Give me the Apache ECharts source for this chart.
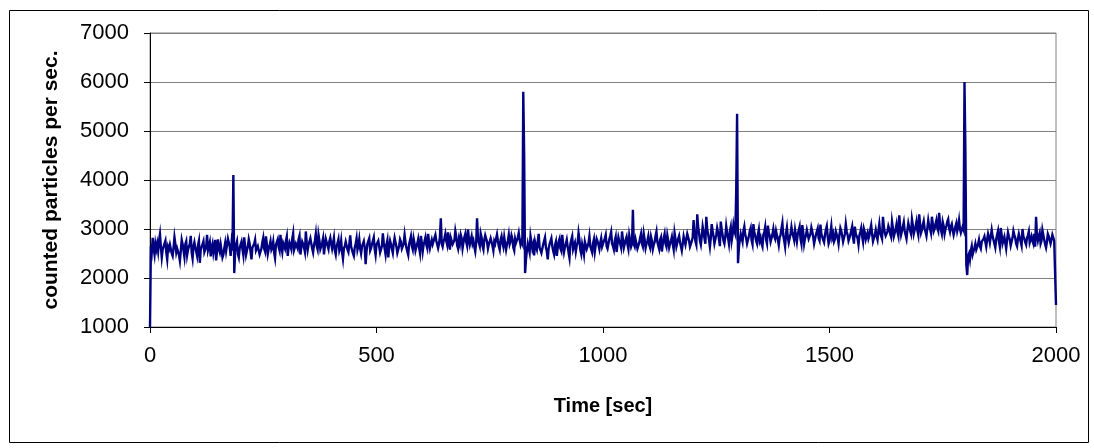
<!DOCTYPE html>
<html>
<head>
<meta charset="utf-8">
<script src="https://cdn.jsdelivr.net/npm/echarts@6/dist/echarts.min.js"></script>
<style>
html,body{margin:0;padding:0;background:#fff;}
#chart{width:1094px;height:448px;}
</style>
</head>
<body>
<div id="chart"></div>
<script>
// Sampling step of the readings (seconds)
const STEP = 2;
// Counted particles per second, every 2 s (t = 0 ... 2000)
const counts = [
1000,
2650,2540,2820,2610,2480,2700,2590,2700,2550,2760,
2890,2630,2420,2580,2610,2700,2760,2520,2380,2640,
2590,2680,2710,2500,2450,2620,2830,2690,2520,2600,
2640,2470,2350,2560,2780,2690,2560,2430,2690,2750,
2470,2580,2600,2700,2860,2520,2400,2650,2730,2610,
2540,2450,2670,2760,2310,2580,2620,2690,2750,2530,
2500,2640,2880,2570,2580,2730,2440,2620,2700,2510,
2620,2780,2360,2560,2790,2600,2530,2680,2660,2420,
2480,2610,2720,2550,2570,2800,2820,2640,2450,2700,2560,
4100,2100,
2560,2680,2750,2490,2420,2610,2680,2740,2590,2470,
2830,2650,2470,2560,2640,2790,2700,2530,2380,2620,
2610,2700,2780,2560,2520,2650,2690,2480,2440,2600,
2730,2820,2600,2540,2850,2680,2490,2590,2660,2750,
2580,2630,2740,2520,2410,2680,2700,2790,2630,2560,
2880,2640,2530,2710,2680,2600,2760,2850,2450,2620,
2720,2660,2590,2800,2910,2570,2560,2700,2690,2600,
2790,2860,2480,2620,2740,2690,2620,2530,2950,2720,
2570,2680,2700,2810,2830,2600,2520,2670,2760,2900,
2650,2580,2880,2760,2590,2650,2720,2810,2480,2640,
2800,2730,2660,2590,2750,2820,2700,
2600,2710,2820,2560,2480,2650,2710,2790,2560,2620,
2760,2530,2390,2600,2650,2740,2730,2580,2530,2690,
2870,2640,2610,2500,2450,2620,2700,2810,2580,2660,
2790,2600,2500,2640,2680,2750,2620,2280,2550,2700,
2740,2810,2560,2610,2690,2730,2830,2590,2470,2680,
2650,2760,2720,2520,2540,2650,2910,2720,2600,2480,
2680,2770,2420,2630,2760,2690,2590,2510,2700,2820,
2830,2640,2510,2580,2660,2790,2740,2600,2580,2700,
2880,2730,2620,2540,2470,2690,2730,2850,2650,2580,
2800,2700,2560,2640,2700,2790,2620,2510,2860,2720,
2540,2680,2750,2830,2680,2610,2900,2740,2610,2700,
2780,2690,2650,2820,2880,2760,2720,2610,2700,2840,
3220,2700,2640,2750,2810,2900,2760,2680,2930,2740,
2580,2820,2840,2690,2700,2770,2960,2850,2670,2600,
2790,2700,2880,2810,2610,2730,2830,2900,2740,2660,
2990,2800,2680,2760,2850,2700,2760,2630,2540,2720,
3220,2790,2720,2650,2910,2830,2650,2580,2780,2870,
2860,2740,2600,2690,2740,2810,2820,2660,2560,2750,
2700,2800,2890,2760,2650,2580,2780,2850,2720,2640,
2830,2700,2580,2690,2760,2880,2690,2750,2870,2800,
2620,2560,2800,2720,2740,2830,2920,2780,2680,2750,
2700,
5800,4500,2100,
2380,2560,2700,2610,2520,2850,2730,2600,2680,2460,
2730,2640,2580,2750,2900,2620,2640,2510,2500,2690,
2760,2830,2620,2540,2380,2600,2690,2720,2810,2650,
2550,2480,2670,2740,2450,2610,2740,2800,2600,2550,
2880,2700,2530,2630,2700,2780,2640,2520,2410,2690,
2780,2850,2590,2660,2720,2540,2660,2720,2920,2780,
2570,2490,2690,2600,2480,2740,2760,2590,2630,2710,
2850,2640,2600,2520,2710,2790,2540,2680,2800,2750,
2680,2590,2720,2810,2640,2700,
2720,2810,2880,2650,2600,2700,2790,2860,2940,2700,
2650,2580,2760,2840,2530,2690,2830,2750,2700,2620,
2950,2780,2620,2700,2780,2840,2680,2590,2870,2760,
2640,2700,3390,2690,2640,2780,2750,2600,2560,2720,
2820,2900,2700,2640,2900,2780,2610,2700,2760,2850,
2680,2620,2840,2760,2590,2680,2730,2860,2950,2740,
2660,2590,2780,2830,2540,2700,2810,2900,2700,2640,
2870,2760,2620,2700,2760,2840,2690,2580,2920,2800,
2640,2720,2800,2860,2730,2650,2560,2700,2850,2760,
2680,2790,2900,2830,2760,2640,2620,2750,2830,
3180,2900,2750,2680,3300,3050,2920,2760,2680,2850,
3050,2940,2810,2700,3250,3000,2900,2780,2640,2820,
3100,2960,2850,2700,2720,2880,3020,2930,2790,2650,
3150,2990,2880,2760,2700,2840,3060,2920,2820,2700,
2950,3040,2760,2880,3080,2960,2900,
3750,5350,2300,
2620,2780,2900,2820,2740,2960,3050,2880,2810,2700,
2680,2850,2960,3020,2770,2690,3100,2940,2850,2760,
2700,2890,2990,2760,2820,2700,2640,2880,2930,3040,
2780,2700,3070,2920,2860,2740,2720,2890,3000,2850,
2800,2960,2950,2780,2670,2830,2880,3010,3120,2860,
2760,2640,2910,3030,2830,2720,2690,2900,3040,2920,
2850,2770,2980,2860,2740,2900,2900,3050,2800,2700,
3080,2930,2700,2810,2870,2980,2960,2800,2780,2900,
3030,2950,2840,2700,2660,2880,2920,3010,2810,2760,
3090,2900,2870,2780,2730,2880,2990,3060,2850,2700,
2760,2920,3060,2830,2900,2740,2790,2950,2950,2820,
2700,2880,3020,2960,2860,2740,2780,2900,3100,2950,
2880,2760,2740,2880,2970,3050,2830,2700,3050,2900,
2900,2810,2680,2870,2940,3020,2850,2740,3000,2930,
2790,2860,2920,2800,2860,2990,3080,2900,2750,2820,
2880,
2980,2850,2780,2960,3100,2920,2880,2800,3250,3050,
2930,2860,2820,2950,3060,3000,2900,2840,3150,3020,
2850,2920,3000,3100,2940,2860,3280,3050,2880,2960,
3050,3140,2960,2880,2800,2980,3120,3030,2990,2900,
3200,3080,2900,2980,3050,3150,2970,2880,3300,3100,
2920,2980,3080,3160,3010,2940,2860,3020,3180,3060,
3000,2920,3250,3110,2950,3000,3100,3180,3020,2960,
3330,3120,2980,2900,3140,3060,2900,3000,3060,3150,
3200,3020,2940,3050,3100,2980,2880,2960,3050,3120,
2960,3040,3180,3000,2920,2980,3050,2990,
6000,4600,2270,2060,
2450,2500,2380,2560,2650,2480,2450,2620,2700,2580,
2560,2690,2780,2650,2600,2740,2720,2800,
2850,2740,2640,2790,2900,2820,2720,2680,2980,2850,
2780,2700,2620,2790,2880,2960,2750,2640,3020,2880,
2700,2770,2840,2720,2600,2780,2930,2850,2780,2660,
2690,2820,2960,2880,2820,2700,2650,2800,2900,2940,
2740,2660,3000,2850,2800,2730,2680,2820,2870,2950,
2720,2780,2850,2760,2700,2900,2640,3250,2860,2760,
2850,2920,2700,2760,2980,2880,2780,2690,2620,2740,
2900,2850,2820,2700,2780,2880,2840,2760,2800,
1450
];
const times = counts.map((_, i) => i * STEP);

const xTitle = 'Time [sec]';
const yTitle = 'counted particles per sec.';
const xMin = 0, xMax = 2000, xInterval = 500;
const yMin = 1000, yMax = 7000, yInterval = 1000;

const chart = echarts.init(document.getElementById('chart'), null, {renderer: 'canvas'});
const FONT = '"Liberation Sans", Arial, sans-serif';
chart.setOption({
  animation: false,
  backgroundColor: '#ffffff',
  graphic: [{
    type: 'rect', left: 7, top: 8, z: 0, silent: true,
    shape: {width: 1079, height: 432},
    style: {fill: 'none', stroke: '#000', lineWidth: 1}
  }],
  grid: {left: 150, right: 38, top: 33, bottom: 121, show: true,
         borderColor: '#808080', borderWidth: 1, backgroundColor: 'transparent'},
  xAxis: {
    type: 'value', min: xMin, max: xMax, interval: xInterval,
    name: xTitle, nameLocation: 'middle', nameGap: 69,
    nameTextStyle: {fontFamily: FONT, fontSize: 20, fontWeight: 'bold', color: '#000'},
    axisLine: {show: true, onZero: false, lineStyle: {color: '#000', width: 1}},
    axisTick: {show: true, inside: false, length: 6, lineStyle: {color: '#000'}},
    axisLabel: {fontFamily: FONT, fontSize: 22, color: '#000', margin: 18,
                formatter: v => String(v)},
    splitLine: {show: false}
  },
  yAxis: {
    type: 'value', min: yMin, max: yMax, interval: yInterval,
    name: yTitle, nameLocation: 'middle', nameGap: 88, nameRotate: 90,
    nameTextStyle: {fontFamily: FONT, fontSize: 21, fontWeight: 'bold', color: '#000'},
    axisLine: {show: true, lineStyle: {color: '#000', width: 1}},
    axisTick: {show: true, inside: false, length: 6, lineStyle: {color: '#000'}},
    axisLabel: {fontFamily: FONT, fontSize: 22, color: '#000', margin: 21,
                formatter: v => String(v)},
    splitLine: {show: true, lineStyle: {color: '#808080', width: 1}}
  },
  series: [{
    type: 'line',
    data: times.map((t, i) => [t, counts[i]]),
    showSymbol: false,
    symbol: 'none',
    lineStyle: {color: '#000080', width: 2.4, join: 'miter', miterLimit: 10},
    clip: true
  }]
});
</script>
</body>
</html>
